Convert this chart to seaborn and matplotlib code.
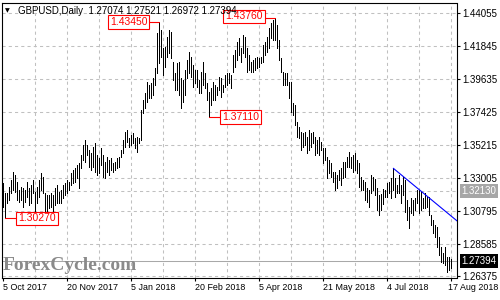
import numpy as np
import pandas as pd
import matplotlib
matplotlib.use("Agg")
import matplotlib.pyplot as plt
import matplotlib.transforms as mtransforms
import seaborn as sns

# ---------------- data ----------------
highs = [
    1.3262, 1.3196, 1.3196, 1.3240, 1.3285, 1.3341, 1.3319, 1.3274, 1.3218, 1.3240,
    1.3229, 1.3218, 1.3274, 1.3229, 1.3252, 1.3285, 1.3207, 1.3240, 1.3285, 1.3330,
    1.3308, 1.3196, 1.3184, 1.3184, 1.3196, 1.3184, 1.3229, 1.3252, 1.3207, 1.3218,
    1.3252, 1.3263, 1.3285, 1.3274, 1.3330, 1.3352, 1.3364, 1.3386, 1.3397, 1.3453,
    1.3521, 1.3554, 1.3521, 1.3487, 1.3467, 1.3507, 1.3534, 1.3453, 1.3433, 1.3500,
    1.3453, 1.3406, 1.3440, 1.3419, 1.3433, 1.3399, 1.3406, 1.3433, 1.3440, 1.3487,
    1.3554, 1.3608, 1.3621, 1.3567, 1.3588, 1.3601, 1.3567, 1.3574, 1.3567, 1.3755,
    1.3823, 1.3869, 1.3943, 1.3923, 1.3936, 1.3970, 1.4037, 1.4273, 1.4345, 1.4293,
    1.4172, 1.4179, 1.4246, 1.4293, 1.4280, 1.4078, 1.4004, 1.4071, 1.4078, 1.3970,
    1.3957, 1.4024, 1.4092, 1.4145, 1.4112, 1.4058, 1.4024, 1.4024, 1.3957, 1.4011,
    1.4078, 1.4004, 1.3936, 1.3876, 1.3903, 1.3943, 1.3923, 1.3910, 1.3977, 1.3970,
    1.3923, 1.3990, 1.4004, 1.4004, 1.3990, 1.4125, 1.4159, 1.4213, 1.4240, 1.4172,
    1.4260, 1.4246, 1.4172, 1.4125, 1.4078, 1.4092, 1.4105, 1.4112, 1.4105, 1.4112,
    1.4193, 1.4213, 1.4246, 1.4307, 1.4340, 1.4361, 1.4376, 1.4327, 1.4226, 1.4105,
    1.4011, 1.4004, 1.4004, 1.3943, 1.3943, 1.3802, 1.3789, 1.3675, 1.3641, 1.3608,
    1.3601, 1.3608, 1.3574, 1.3621, 1.3601, 1.3608, 1.3574, 1.3554, 1.3574, 1.3541,
    1.3500, 1.3500, 1.3440, 1.3419, 1.3399, 1.3339, 1.3339, 1.3319, 1.3352, 1.3366,
    1.3406, 1.3406, 1.3440, 1.3473, 1.3440, 1.3453, 1.3467, 1.3419, 1.3399, 1.3306,
    1.3285, 1.3272, 1.3232, 1.3218, 1.3319, 1.3306, 1.3291, 1.3232, 1.3184, 1.3191,
    1.3225, 1.3218, 1.3265, 1.3272, 1.3299, 1.3364, 1.3299, 1.3252, 1.3319, 1.3252,
    1.3306, 1.3285, 1.3151, 1.3104, 1.3164, 1.3151, 1.3164, 1.3218, 1.3218, 1.3205,
    1.3164, 1.3198, 1.3171, 1.3171, 1.3049, 1.3016, 1.2982, 1.2969, 1.2902, 1.2835,
    1.2794, 1.2835, 1.2767, 1.2767, 1.27521,
]
lows = [
    1.3105, 1.3027, 1.3128, 1.3151, 1.3196, 1.3218, 1.3207, 1.3151, 1.3140, 1.3151,
    1.3105, 1.3140, 1.3173, 1.3117, 1.3128, 1.3196, 1.3072, 1.3128, 1.3173, 1.3218,
    1.3196, 1.3061, 1.3072, 1.3095, 1.3105, 1.3061, 1.3117, 1.3128, 1.3128, 1.3128,
    1.3162, 1.3184, 1.3196, 1.3218, 1.3252, 1.3263, 1.3274, 1.3296, 1.3229, 1.3364,
    1.3420, 1.3407, 1.3453, 1.3373, 1.3352, 1.3373, 1.3339, 1.3319, 1.3330, 1.3386,
    1.3306, 1.3299, 1.3339, 1.3319, 1.3352, 1.3339, 1.3352, 1.3366, 1.3373, 1.3440,
    1.3467, 1.3507, 1.3541, 1.3507, 1.3521, 1.3534, 1.3500, 1.3473, 1.3534, 1.3554,
    1.3735, 1.3769, 1.3809, 1.3836, 1.3836, 1.3856, 1.3923, 1.4004, 1.4071, 1.4112,
    1.3990, 1.4045, 1.4112, 1.4139, 1.4105, 1.3957, 1.3890, 1.3890, 1.3856, 1.3769,
    1.3809, 1.3856, 1.3970, 1.4004, 1.3977, 1.3910, 1.3936, 1.3910, 1.3869, 1.3869,
    1.3923, 1.3903, 1.3823, 1.3711, 1.3789, 1.3823, 1.3823, 1.3856, 1.3890, 1.3843,
    1.3876, 1.3910, 1.3923, 1.3936, 1.3903, 1.4011, 1.4045, 1.4092, 1.4126, 1.4078,
    1.4139, 1.4112, 1.4011, 1.4024, 1.4011, 1.4011, 1.4024, 1.4037, 1.4045, 1.4071,
    1.4078, 1.4126, 1.4145, 1.4172, 1.4240, 1.4226, 1.4226, 1.4172, 1.4092, 1.4011,
    1.3923, 1.3923, 1.3923, 1.3836, 1.3742, 1.3722, 1.3654, 1.3574, 1.3567, 1.3487,
    1.3507, 1.3521, 1.3467, 1.3487, 1.3507, 1.3534, 1.3453, 1.3467, 1.3453, 1.3487,
    1.3399, 1.3419, 1.3299, 1.3330, 1.3306, 1.3272, 1.3218, 1.3232, 1.3285, 1.3252,
    1.3299, 1.3306, 1.3373, 1.3373, 1.3366, 1.3339, 1.3352, 1.3330, 1.3238, 1.3218,
    1.3218, 1.3151, 1.3137, 1.3105, 1.3198, 1.3218, 1.3184, 1.3083, 1.3049, 1.3083,
    1.3124, 1.3171, 1.3171, 1.3198, 1.3164, 1.3218, 1.3171, 1.3198, 1.3198, 1.3131,
    1.3184, 1.3070, 1.3016, 1.2963, 1.3063, 1.3049, 1.3083, 1.3131, 1.3063, 1.3083,
    1.3097, 1.3097, 1.3104, 1.3049, 1.2982, 1.2929, 1.2902, 1.2835, 1.2781, 1.2734,
    1.2727, 1.2714, 1.2666, 1.2680, 1.26972,
]
date_labels = ["5 Oct 2017", "20 Nov 2017", "5 Jan 2018", "20 Feb 2018",
               "5 Apr 2018", "21 May 2018", "4 Jul 2018", "17 Aug 2018"]
price_ticks = [1.44055, 1.41845, 1.39635, 1.37425, 1.35215,
               1.33005, 1.30795, 1.28585, 1.26375]
title_text = "GBPUSD,Daily  1.27074 1.27521 1.26972 1.27394"
last_price = 1.27394
level_price = 1.32130
swing_idx = [1, 78, 103, 136]
swing_price = [1.30270, 1.43450, 1.37110, 1.43760]
swing_text = ["1.30270", "1.43450", "1.37110", "1.43760"]
trend_idx = [195, 227]
trend_price = [1.3364, 1.3009]

# ---------------- figure ----------------
sns.set_theme(style="white")
plt.rcParams['font.family'] = ['Liberation Sans', 'DejaVu Sans']

W, H = 500, 300
fig = plt.figure(figsize=(5, 3), dpi=100)
L, R, T, B = 1.7, 456.5, 2.7, 278.3
ax = fig.add_axes([L / W, 1 - B / H, (R - L) / W, (B - T) / H])
ax.set_facecolor("white")

n = len(highs)
df = pd.DataFrame({"idx": np.arange(n), "high": highs, "low": lows})

ymin, ymax = 1.26247, 1.44767
ax.set_xlim(-0.8, 226.6)
ax.set_ylim(ymin, ymax)

grid_kw = dict(color="#c0c0c0", lw=0.75, linestyle=(0, (3, 3)))
# vertical grid every 16 bars
ax.vlines(np.arange(16, n, 16), ymin, ymax, colors="#c0c0c0", lw=0.75,
          linestyles=[(0, (3, 3))], zorder=0)
ax.set_yticks(price_ticks)
ax.yaxis.grid(True, **grid_kw)
ax.set_axisbelow(True)

# level lines
ax.axhline(level_price, zorder=1, **grid_kw)
ax.axhline(last_price, color="#a8a8a8", lw=0.75, zorder=1)

# bars
ax.vlines(df["idx"], df["low"], df["high"], colors="black", lw=0.7,
          antialiased=False, zorder=3)

# trend line
sns.lineplot(x=trend_idx, y=trend_price, color="#0000ff", lw=0.8, ax=ax,
             legend=False, zorder=4)

# swing labels
box_center = [16.8, 62.6, 118.5, 120.4]
box_offset = [0.0, 0.0, 0.0, 0.0008]
for si, sp, st, bc, bo in zip(swing_idx, swing_price, swing_text, box_center, box_offset):
    ax.plot([si, bc], [sp, sp], color="red", lw=0.8, zorder=4)
    ax.text(bc, sp + bo, st, ha="center", va="center", color="red", fontsize=7.5,
            zorder=6,
            bbox=dict(boxstyle="square,pad=0.18", fc="white", ec="red", lw=0.8))

# axes styling
for s in ax.spines.values():
    s.set_color("black")
    s.set_linewidth(0.8)
    s.set_visible(True)

ax.yaxis.tick_right()
ax.set_yticklabels([f"{p:.5f}" for p in price_ticks])
ax.tick_params(axis="y", which="both", right=True, left=False, length=2.5,
               width=0.8, pad=1.8, labelsize=7, colors="black", direction="out")
ax.set_xticks(np.arange(0, n, 32))
ax.set_xticklabels(date_labels)
ax.tick_params(axis="x", bottom=True, length=2.5, width=0.8, pad=1.2,
               labelsize=6.4, colors="black", direction="out")
xlabs = ax.get_xticklabels()
for lab in xlabs:
    lab.set_ha("left")
xlabs[-1].set_transform(xlabs[-1].get_transform() +
                        mtransforms.ScaledTranslation(-2.5 / 72, 0, fig.dpi_scale_trans))
ax.set_xlabel("")
ax.set_ylabel("")

# right-hand price boxes
ytr = ax.get_yaxis_transform()
xlab = (461.5 - L) / (R - L)
ax.text(xlab, level_price, "1.32130", transform=ytr, ha="left", va="center",
        color="white", fontsize=7, clip_on=False,
        bbox=dict(boxstyle="square,pad=0.2", fc="#a6a6a6", ec="#a6a6a6", lw=0))
ax.text(xlab, last_price, "1.27394", transform=ytr, ha="left", va="center",
        color="white", fontsize=7, clip_on=False,
        bbox=dict(boxstyle="square,pad=0.2", fc="black", ec="black", lw=0))

# title and watermark
fig.text(5 / W, 1 - 12.5 / H, "\u25BC", family="DejaVu Sans", fontsize=4.5,
         color="black", va="baseline", ha="left")
fig.text(18 / W, 1 - 14.5 / H, title_text, fontsize=7, color="black",
         va="baseline", ha="left")
fig.text(3 / W, 1 - 269.5 / H, "ForexCycle.com", family="Liberation Serif",
         weight="bold", fontsize=14, color="#8a8a8a", va="baseline", ha="left")

fig.savefig("out.png", dpi=100, facecolor="white")
